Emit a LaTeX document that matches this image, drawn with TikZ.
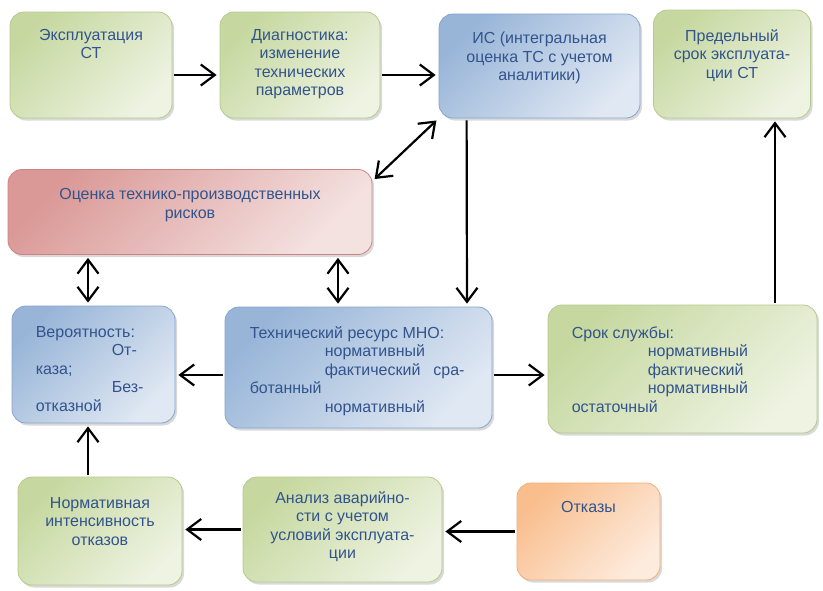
\documentclass[tikz,border=0pt]{standalone}
\usepackage{fontspec}
\setmainfont{Liberation Sans}
\usetikzlibrary{positioning,arrows.meta,shadows}

\definecolor{greenDark}{HTML}{C6D8A0}
\definecolor{greenLight}{HTML}{EEF3E2}
\definecolor{greenEdge}{HTML}{B5CA8C}
\definecolor{blueDark}{HTML}{98B5D8}
\definecolor{blueLight}{HTML}{E0E8F3}
\definecolor{blueEdge}{HTML}{86A5CF}
\definecolor{redDark}{HTML}{DA9997}
\definecolor{redLight}{HTML}{F4E2E1}
\definecolor{redEdge}{HTML}{CC8482}
\definecolor{orangeDark}{HTML}{F9BE8E}
\definecolor{orangeLight}{HTML}{FDEBDD}
\definecolor{orangeEdge}{HTML}{F5AE78}
\definecolor{txtBlue}{RGB}{50,84,140}

\tikzset{
  box/.style={rounded corners=14pt, draw=#1Edge, line width=0.8pt,
    top color=#1Dark, bottom color=#1Light, shading angle=45,
    drop shadow={shadow xshift=2pt, shadow yshift=-2.5pt, opacity=0.3},
    inner sep=0pt},
  boxsize/.style 2 args={minimum width=#1, minimum height=#2},
  txt/.style={text=txtBlue, font=\fontsize{16}{18.5}\selectfont,
    inner sep=0pt, align=center},
  ltxt/.style={txt, align=left},
  tip/.tip={Straight Barb[length=14pt,width=21pt]},
  arr/.style={-tip, line width=2.2pt, shorten >=3pt, shorten <=2pt},
  darr/.style={arr, tip-tip, shorten <=3pt},
}

\begin{document}
\begin{tikzpicture}[x=1pt, y=-1pt]
  \useasboundingbox (0,0) rectangle (823,590);

  % top row
  \node[box=green, boxsize={162pt}{106pt}] (ekspl) at (91,65) {};
  \node[box=green, boxsize={160pt}{106pt}] (diag) at (300,65) {};
  \node[box=blue, boxsize={201pt}{104pt}] (is) at (539.5,66) {};
  \node[box=green, boxsize={157pt}{108pt}] (pred) at (732,64) {};

  % risk
  \node[box=red, boxsize={364pt}{85pt}] (risk) at (190,212) {};

  % middle row
  \node[box=blue, boxsize={163pt}{117pt}] (ver) at (93.5,364.5) {};
  \node[box=blue, boxsize={267pt}{121pt}] (tech) at (358.5,367.5) {};
  \node[box=green, boxsize={269pt}{128pt}] (srok) at (682.5,369) {};

  % bottom row
  \node[box=green, boxsize={164pt}{108pt}] (norm) at (100,531) {};
  \node[box=green, boxsize={199pt}{105pt}] (anal) at (342.5,529.5) {};
  \node[box=orange, boxsize={143pt}{97pt}] (otk) at (588.5,531.5) {};

  % texts
  \node[txt, below=17.5pt of ekspl.north] (eksplT) {Эксплуатация\\СТ};
  \node[txt, below=17.5pt of diag.north] (diagT)
    {Диагностика:\\изменение\\технических\\параметров};
  \node[txt, below=18.5pt of is.north] (isT)
    {ИС (интегральная\\оценка ТС с учетом\\аналитики)};
  \node[txt, below=19.5pt of pred.north] (predT)
    {Предельный\\срок эксплуата-\\ции СТ};
  \node[txt, below=19.5pt of risk.north] (riskT)
    {Оценка технико-производственных\\рисков};
  \node[ltxt, below right=20.5pt and 24pt of ver.north west] (verT)
    {Вероятность:\\\hspace*{76pt}От-\\каза;\\\hspace*{76pt}Без-\\отказной};
  \node[ltxt, below right=19.5pt and 25pt of tech.north west] (techT)
    {Технический ресурс МНО:\\\hspace*{75pt}нормативный\\
     \hspace*{75pt}фактический\hspace{13pt}сра-\\ботанный\\
     \hspace*{75pt}нормативный};
  \node[ltxt, below right=21.5pt and 24pt of srok.north west] (srokT)
    {Срок службы:\\\hspace*{76pt}нормативный\\\hspace*{76pt}фактический\\
     \hspace*{76pt}нормативный\\остаточный};
  \node[txt, below=20.5pt of norm.north] (normT)
    {Нормативная\\интенсивность\\отказов};
  \node[txt, below=14.5pt of anal.north] (analT)
    {Анализ аварийно-\\сти с учетом\\условий эксплуата-\\ции};
  \node[txt, below=18.5pt of otk.north] (otkT) {Отказы};

  % connectors
  \draw[arr] ([yshift=-10pt]ekspl.east) -- ([yshift=-10pt]diag.west);
  \draw[arr] ([yshift=-10pt]diag.east) -- ([yshift=-9pt]is.west);
  \draw[darr] (is.south west) -- ([yshift=-12pt]risk.north east);
  \draw[arr] ([xshift=28pt]is.south west) -- ([xshift=108.5pt]tech.north);
  \draw[darr] ([xshift=-102pt]risk.south) -- ([xshift=-5.5pt]ver.north);
  \draw[darr] ([xshift=148pt]risk.south) -- ([xshift=-20.5pt]tech.north);
  \draw[arr] ([yshift=-7.5pt]tech.west) -- ([yshift=-10.5pt]ver.east);
  \draw[arr] ([yshift=-7.5pt]tech.east) -- ([yshift=-6pt]srok.west);
  \draw[arr] ([xshift=92.5pt]srok.north) -- ([xshift=43pt]pred.south);
  \draw[arr] ([xshift=-12pt]norm.north) -- ([xshift=-5.5pt]ver.south);
  \draw[arr] (anal.west) -- (anal.west -| norm.east);
  \draw[arr] (otk.west) -- (otk.west -| anal.east);
\end{tikzpicture}
\end{document}
